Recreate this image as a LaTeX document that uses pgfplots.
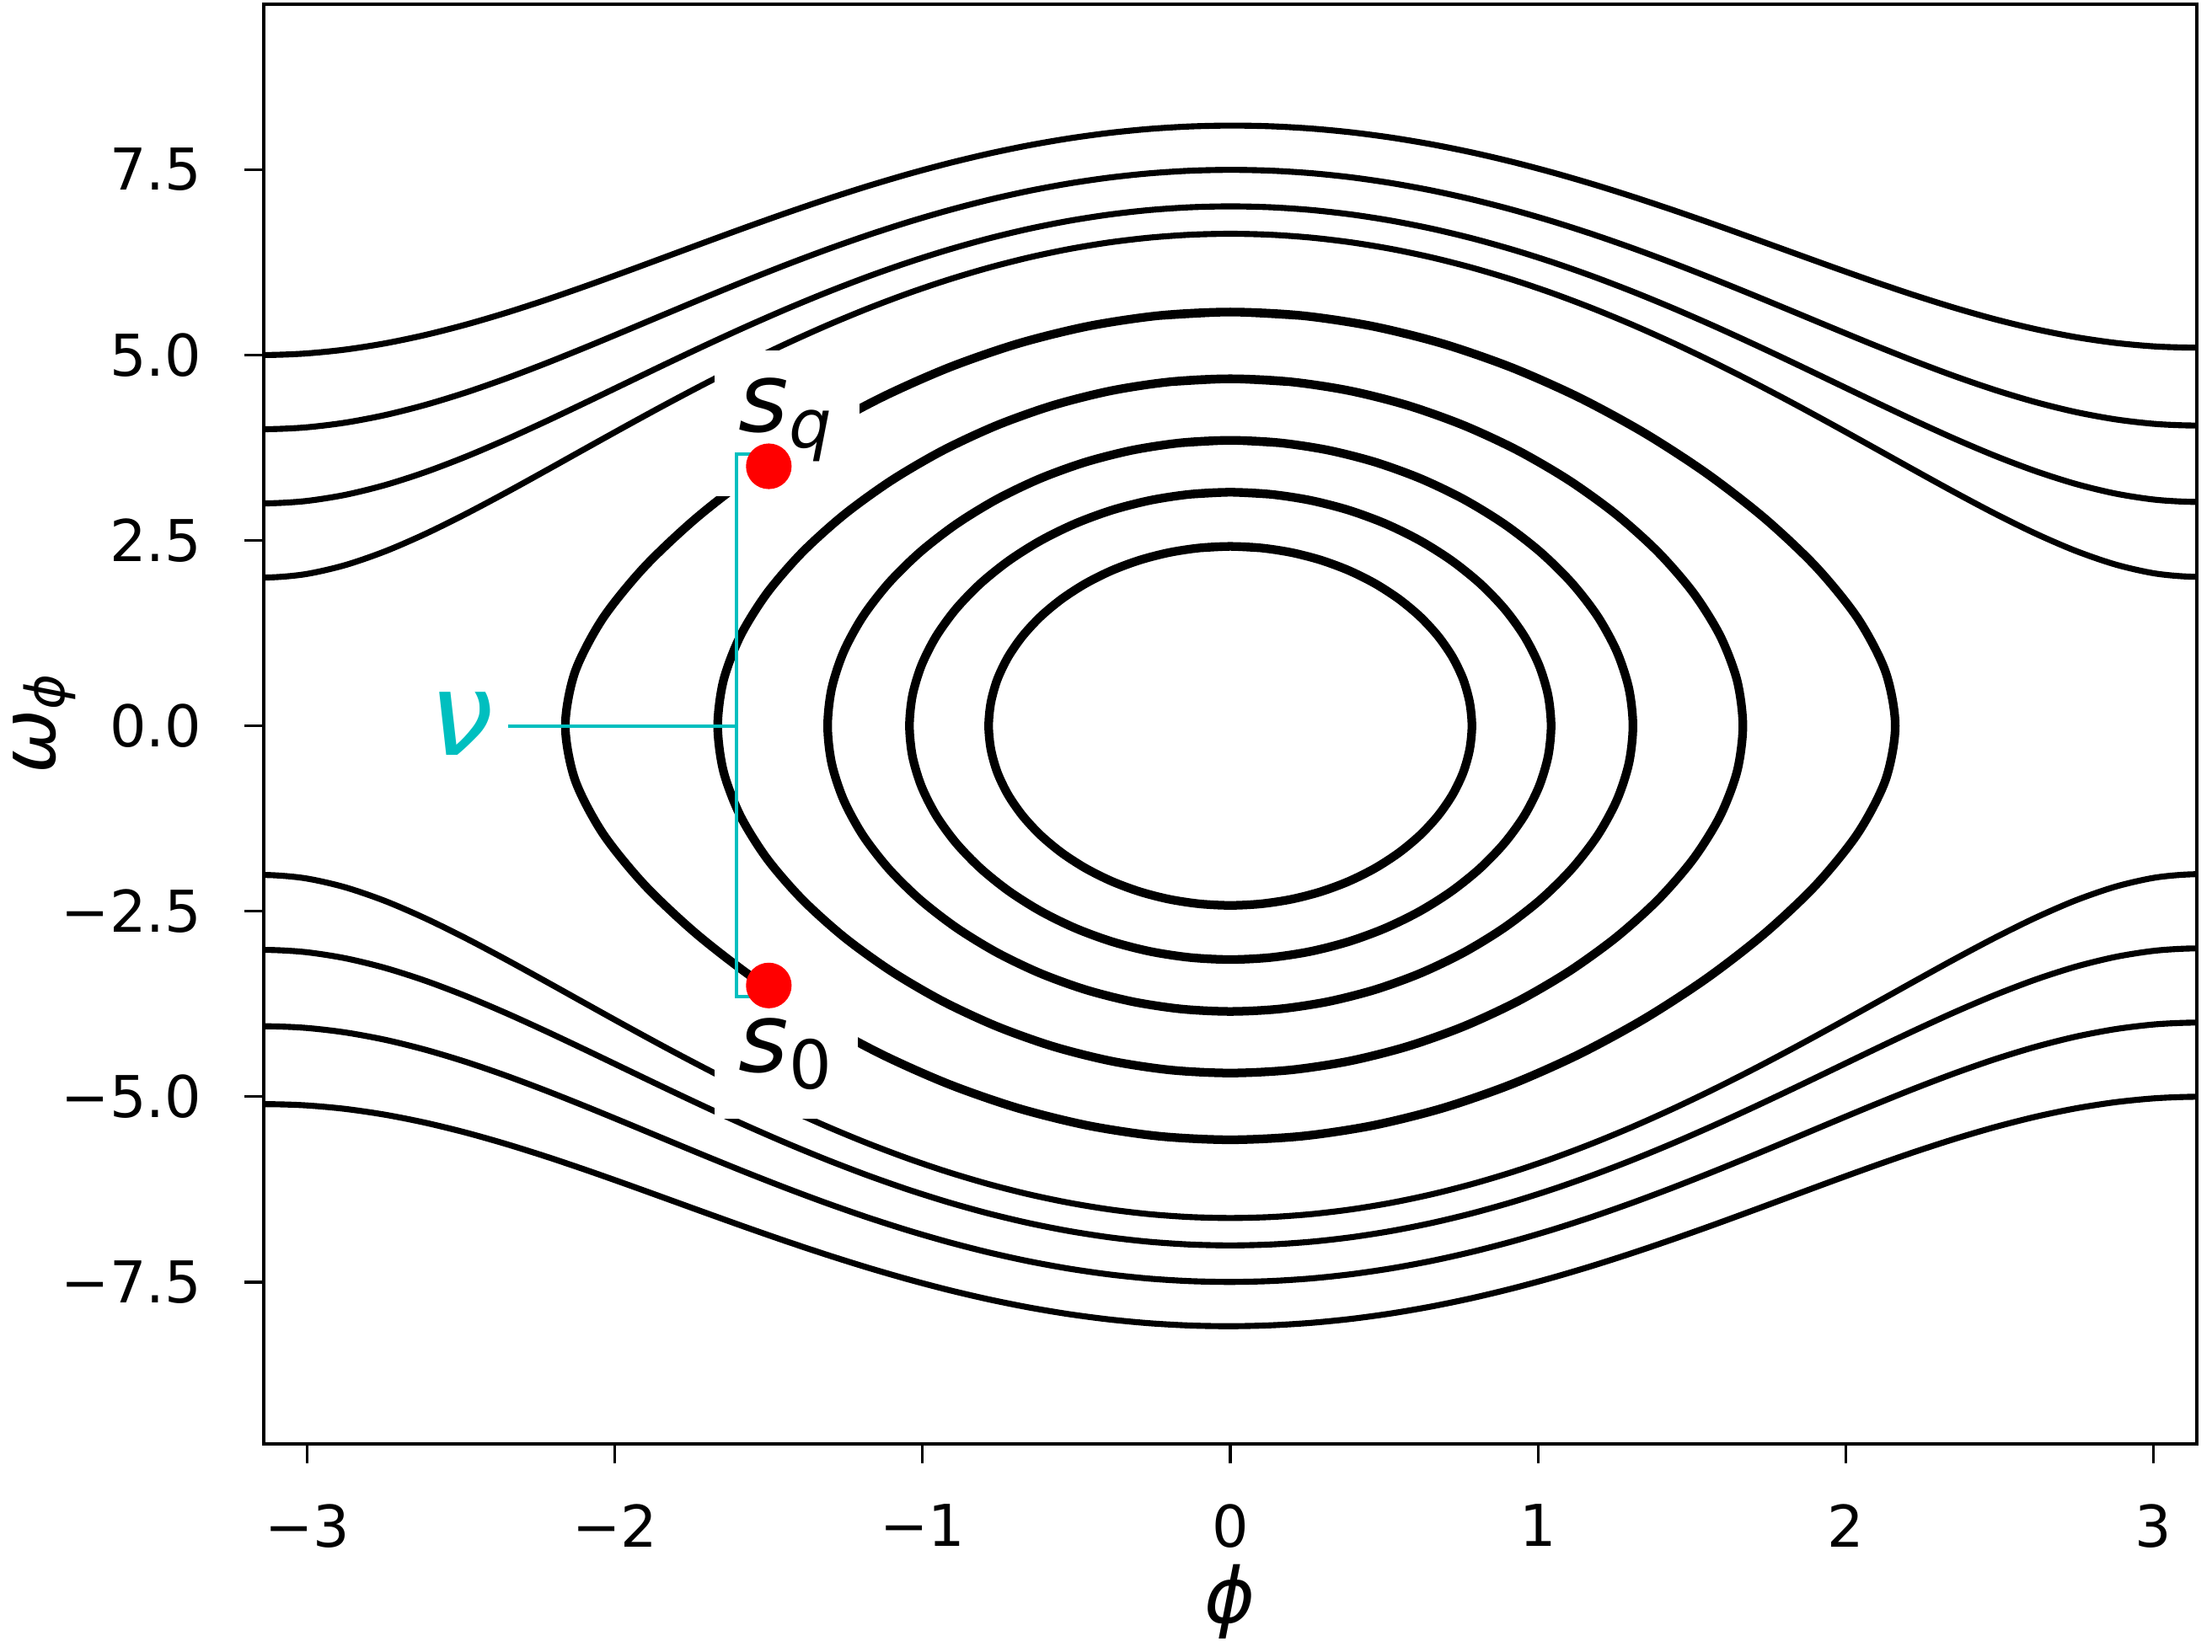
\documentclass[border=0pt]{standalone}
\usepackage{pgfplots}
\usepackage{pgfplotstable}
\pgfplotsset{compat=1.18}
\usepackage{fontspec}
\setmainfont{DejaVu Sans}
\definecolor{cc}{RGB}{0,191,191}

% rotating (open) orbits above the axis
\pgfplotstableread{
phi t5 t4 t3 t2
-3.2725 5.0150 4.0203 3.0280 2.0421
-3.1416 5.0000 4.0000 3.0000 2.0000
-3.0107 5.0192 4.0224 3.0288 2.0425
-2.8798 5.0719 4.0865 3.1124 2.1643
-2.7489 5.1561 4.1890 3.2450 2.3505
-2.6180 5.2692 4.3259 3.4191 2.5852
-2.4871 5.4072 4.4916 3.6256 2.8526
-2.3562 5.5663 4.6806 3.8566 3.1405
-2.2253 5.7421 4.8870 4.1039 3.4396
-2.0944 5.9303 5.1056 4.3612 3.7426
-1.9635 6.1266 5.3312 4.6226 4.0440
-1.8326 6.3273 5.5594 4.8836 4.3396
-1.7017 6.5285 5.7863 5.1397 4.6259
-1.5708 6.7271 6.0083 5.3879 4.9000
-1.4399 6.9198 6.2224 5.6252 5.1596
-1.3090 7.1043 6.4260 5.8490 5.4026
-1.1781 7.2780 6.6165 6.0573 5.6272
-1.0472 7.4389 6.7921 6.2482 5.8321
-0.9163 7.5850 6.9510 6.4201 6.0157
-0.7854 7.7150 7.0917 6.5717 6.1771
-0.6545 7.8273 7.2129 6.7018 6.3153
-0.5236 7.9209 7.3135 6.8096 6.4294
-0.3927 7.9950 7.3927 6.8942 6.5188
-0.2618 8.0487 7.4499 6.9551 6.5830
-0.1309 8.0816 7.4847 6.9919 6.6218
0.0000 8.0935 7.4967 7.0043 6.6348
0.1309 8.0842 7.4858 6.9922 6.6219
0.2618 8.0539 7.4522 6.9558 6.5833
0.3927 8.0028 7.3961 6.8953 6.5192
0.5236 7.9315 7.3180 6.8110 6.4299
0.6545 7.8407 7.2186 6.7037 6.3159
0.7854 7.7313 7.0987 6.5740 6.1779
0.9163 7.6044 6.9594 6.4228 6.0167
1.0472 7.4614 6.8020 6.2514 5.8333
1.1781 7.3040 6.6279 6.0610 5.6286
1.3090 7.1338 6.4389 5.8533 5.4041
1.4399 6.9532 6.2371 5.6301 5.1613
1.5708 6.7645 6.0249 5.3935 4.9020
1.7017 6.5702 5.8050 5.1461 4.6282
1.8326 6.3737 5.5804 4.8907 4.3424
1.9635 6.1779 5.3546 4.6307 4.0471
2.0944 5.9868 5.1316 4.3704 3.7461
2.2253 5.8041 4.9159 4.1143 3.4437
2.3562 5.6340 4.7125 3.8682 3.1453
2.4871 5.4807 4.5267 3.6387 2.8581
2.6180 5.3485 4.3643 3.4337 2.5917
2.7489 5.2411 4.2305 3.2611 2.3579
2.8798 5.1624 4.1310 3.1300 2.1726
3.0107 5.1147 4.0697 3.0477 2.0519
3.1416 5.1000 4.0497 3.0199 2.0100
3.2725 5.1188 4.0718 3.0486 2.0523
}\toporb

% rotating (open) orbits below the axis
\pgfplotstableread{
phi b5 b4 b3 b2
3.2725 -5.0150 -4.0203 -3.0280 -2.0421
3.1416 -5.0000 -4.0000 -3.0000 -2.0000
3.0107 -5.0192 -4.0224 -3.0288 -2.0425
2.8798 -5.0719 -4.0865 -3.1124 -2.1643
2.7489 -5.1561 -4.1890 -3.2450 -2.3505
2.6180 -5.2692 -4.3259 -3.4191 -2.5852
2.4871 -5.4072 -4.4916 -3.6256 -2.8526
2.3562 -5.5663 -4.6806 -3.8566 -3.1405
2.2253 -5.7421 -4.8870 -4.1039 -3.4396
2.0944 -5.9303 -5.1056 -4.3612 -3.7426
1.9635 -6.1266 -5.3312 -4.6226 -4.0440
1.8326 -6.3273 -5.5594 -4.8836 -4.3396
1.7017 -6.5285 -5.7863 -5.1397 -4.6259
1.5708 -6.7271 -6.0083 -5.3879 -4.9000
1.4399 -6.9198 -6.2224 -5.6252 -5.1596
1.3090 -7.1043 -6.4260 -5.8490 -5.4026
1.1781 -7.2780 -6.6165 -6.0573 -5.6272
1.0472 -7.4389 -6.7921 -6.2482 -5.8321
0.9163 -7.5850 -6.9510 -6.4201 -6.0157
0.7854 -7.7150 -7.0917 -6.5717 -6.1771
0.6545 -7.8273 -7.2129 -6.7018 -6.3153
0.5236 -7.9209 -7.3135 -6.8096 -6.4294
0.3927 -7.9950 -7.3927 -6.8942 -6.5188
0.2618 -8.0487 -7.4499 -6.9551 -6.5830
0.1309 -8.0816 -7.4847 -6.9919 -6.6218
0.0000 -8.0935 -7.4967 -7.0043 -6.6348
-0.1309 -8.0842 -7.4858 -6.9922 -6.6219
-0.2618 -8.0539 -7.4522 -6.9558 -6.5833
-0.3927 -8.0028 -7.3961 -6.8953 -6.5192
-0.5236 -7.9315 -7.3180 -6.8110 -6.4299
-0.6545 -7.8407 -7.2186 -6.7037 -6.3159
-0.7854 -7.7313 -7.0987 -6.5740 -6.1779
-0.9163 -7.6044 -6.9594 -6.4228 -6.0167
-1.0472 -7.4614 -6.8020 -6.2514 -5.8333
-1.1781 -7.3040 -6.6279 -6.0610 -5.6286
-1.3090 -7.1338 -6.4389 -5.8533 -5.4041
-1.4399 -6.9532 -6.2371 -5.6301 -5.1613
-1.5708 -6.7645 -6.0249 -5.3935 -4.9020
-1.7017 -6.5702 -5.8050 -5.1461 -4.6282
-1.8326 -6.3737 -5.5804 -4.8907 -4.3424
-1.9635 -6.1779 -5.3546 -4.6307 -4.0471
-2.0944 -5.9868 -5.1316 -4.3704 -3.7461
-2.2253 -5.8041 -4.9159 -4.1143 -3.4437
-2.3562 -5.6340 -4.7125 -3.8682 -3.1453
-2.4871 -5.4807 -4.5267 -3.6387 -2.8581
-2.6180 -5.3485 -4.3643 -3.4337 -2.5917
-2.7489 -5.2411 -4.2305 -3.2611 -2.3579
-2.8798 -5.1624 -4.1310 -3.1300 -2.1726
-3.0107 -5.1147 -4.0697 -3.0477 -2.0519
-3.1416 -5.1000 -4.0497 -3.0199 -2.0100
-3.2725 -5.1188 -4.0718 -3.0486 -2.0523
}\botorb

\begin{document}
\begin{tikzpicture}
\begin{axis}[
  scale only axis, width=402.46pt, height=299.82pt,
  xmin=-3.14159, xmax=3.14159, ymin=-9.68, ymax=9.73,
  axis line style={line width=0.55pt},
  tick style={line width=0.55pt, black},
  tick align=outside, tick pos=left, major tick length=4pt,
  xtick={-3,-2,-1,0,1,2,3}, xticklabels={−3,−2,−1,0,1,2,3},
  ytick={-7.5,-5,-2.5,0,2.5,5,7.5}, yticklabels={−7.5,−5.0,−2.5,0.0,2.5,5.0,7.5},
  tick label style={font=\fontsize{12}{14}\selectfont, inner sep=0pt},
  xticklabel shift=8.42pt, yticklabel shift=8.77pt,
  clip=true, clip mode=individual,
]
\coordinate (bl) at (rel axis cs:0,0);
\coordinate (tr) at (rel axis cs:1,1);

% rotating orbits
\foreach \c in {t5,t4,t3,t2}{
  \addplot[smooth, black, line width=1.25pt] table[x=phi, y=\c] {\toporb};
}
\foreach \c in {b5,b4,b3,b2}{
  \addplot[smooth, black, line width=1.25pt] table[x=phi, y=\c] {\botorb};
}

% librating orbits
\addplot[smooth, black, line width=1.8pt] coordinates {(-0.0999,2.3993)
(0,2.42) (0.0999,2.3993) (0.1984,2.3375) (0.2939,2.2358) (0.3850,2.0957) (0.4701,1.9199) (0.5478,1.7112) (0.6168,1.4732) (0.6754,1.21) (0.7226,0.9261) (0.7572,0.6263) (0.7781,0.3159) (0.7854,0)
(0.7781,-0.3159) (0.7572,-0.6263) (0.7226,-0.9261) (0.6754,-1.21) (0.6168,-1.4732) (0.5478,-1.7112) (0.4701,-1.9199) (0.3850,-2.0957) (0.2939,-2.2358) (0.1984,-2.3375) (0.0999,-2.3993) (0,-2.42)
(-0.0999,-2.3993) (-0.1984,-2.3375) (-0.2939,-2.2358) (-0.3850,-2.0957) (-0.4701,-1.9199) (-0.5478,-1.7112) (-0.6168,-1.4732) (-0.6754,-1.21) (-0.7226,-0.9261) (-0.7572,-0.6263) (-0.7781,-0.3159) (-0.7854,0)
(-0.7781,0.3159) (-0.7572,0.6263) (-0.7226,0.9261) (-0.6754,1.21) (-0.6168,1.4732) (-0.5478,1.7112) (-0.4701,1.9199) (-0.3850,2.0957) (-0.2939,2.2358) (-0.1984,2.3375) (-0.0999,2.3993) (0,2.42) (0.0999,2.3993)};
\addplot[smooth, black, line width=1.8pt] coordinates {(-0.1301,3.1230)
(0,3.15) (0.1301,3.1230) (0.2585,3.0426) (0.3836,2.9102) (0.5034,2.7279) (0.6161,2.4991) (0.7198,2.2274) (0.8125,1.9176) (0.8920,1.575) (0.9564,1.2054) (1.0038,0.8152) (1.0330,0.4112) (1.0428,0)
(1.0330,-0.4112) (1.0038,-0.8152) (0.9564,-1.2054) (0.8920,-1.575) (0.8125,-1.9176) (0.7198,-2.2274) (0.6161,-2.4991) (0.5034,-2.7279) (0.3836,-2.9102) (0.2585,-3.0426) (0.1301,-3.1230) (0,-3.15)
(-0.1301,-3.1230) (-0.2585,-3.0426) (-0.3836,-2.9102) (-0.5034,-2.7279) (-0.6161,-2.4991) (-0.7198,-2.2274) (-0.8125,-1.9176) (-0.8920,-1.575) (-0.9564,-1.2054) (-1.0038,-0.8152) (-1.0330,-0.4112) (-1.0428,0)
(-1.0330,0.4112) (-1.0038,0.8152) (-0.9564,1.2054) (-0.8920,1.575) (-0.8125,1.9176) (-0.7198,2.2274) (-0.6161,2.4991) (-0.5034,2.7279) (-0.3836,2.9102) (-0.2585,3.0426) (-0.1301,3.1230) (0,3.15) (0.1301,3.1230)};
\addplot[smooth, black, line width=1.8pt] coordinates {(-0.1591,3.8170)
(0,3.85) (0.1591,3.8170) (0.3164,3.7187) (0.4702,3.5569) (0.6185,3.3341) (0.7592,3.0544) (0.8899,2.7223) (1.0080,2.3437) (1.1104,1.925) (1.1945,1.4733) (1.2570,0.9964) (1.2957,0.5025) (1.3088,0)
(1.2957,-0.5025) (1.2570,-0.9964) (1.1945,-1.4733) (1.1104,-1.925) (1.0080,-2.3437) (0.8899,-2.7223) (0.7592,-3.0544) (0.6185,-3.3341) (0.4702,-3.5569) (0.3164,-3.7187) (0.1591,-3.8170) (0,-3.85)
(-0.1591,-3.8170) (-0.3164,-3.7187) (-0.4702,-3.5569) (-0.6185,-3.3341) (-0.7592,-3.0544) (-0.8899,-2.7223) (-1.0080,-2.3437) (-1.1104,-1.925) (-1.1945,-1.4733) (-1.2570,-0.9964) (-1.2957,-0.5025) (-1.3088,0)
(-1.2957,0.5025) (-1.2570,0.9964) (-1.1945,1.4733) (-1.1104,1.925) (-1.0080,2.3437) (-0.8899,2.7223) (-0.7592,3.0544) (-0.6185,3.3341) (-0.4702,3.5569) (-0.3164,3.7187) (-0.1591,3.8170) (0,3.85) (0.1591,3.8170)};
\addplot[smooth, black, line width=1.8pt] coordinates {(-0.1935,4.6399)
(0,4.68) (0.1935,4.6399) (0.3854,4.5204) (0.5742,4.3238) (0.7580,4.0529) (0.9346,3.7129) (1.1013,3.3092) (1.2549,2.8490) (1.3912,2.34) (1.5056,1.7909) (1.5926,1.2112) (1.6474,0.6109) (1.6661,0)
(1.6474,-0.6109) (1.5926,-1.2112) (1.5056,-1.7909) (1.3912,-2.34) (1.2549,-2.8490) (1.1013,-3.3092) (0.9346,-3.7129) (0.7580,-4.0529) (0.5742,-4.3238) (0.3854,-4.5204) (0.1935,-4.6399) (0,-4.68)
(-0.1935,-4.6399) (-0.3854,-4.5204) (-0.5742,-4.3238) (-0.7580,-4.0529) (-0.9346,-3.7129) (-1.1013,-3.3092) (-1.2549,-2.8490) (-1.3912,-2.34) (-1.5056,-1.7909) (-1.5926,-1.2112) (-1.6474,-0.6109) (-1.6661,0)
(-1.6474,0.6109) (-1.5926,1.2112) (-1.5056,1.7909) (-1.3912,2.34) (-1.2549,2.8490) (-1.1013,3.3092) (-0.9346,3.7129) (-0.7580,4.0529) (-0.5742,4.3238) (-0.3854,4.5204) (-0.1935,4.6399) (0,4.68) (0.1935,4.6399)};
\addplot[smooth, black, line width=1.8pt] coordinates {(-0.2309,5.5322)
(0,5.58) (0.2309,5.5322) (0.4607,5.3897) (0.6888,5.1553) (0.9138,4.8323) (1.1340,4.4269) (1.3474,3.9456) (1.5507,3.3969) (1.7392,2.79) (1.9059,2.1354) (2.0404,1.4441) (2.1298,0.7284) (2.1614,0)
(2.1298,-0.7284) (2.0404,-1.4441) (1.9059,-2.1354) (1.7392,-2.79) (1.5507,-3.3969) (1.3474,-3.9456) (1.1340,-4.4269) (0.9138,-4.8323) (0.6888,-5.1553) (0.4607,-5.3897) (0.2309,-5.5322) (0,-5.58)
(-0.2309,-5.5322) (-0.4607,-5.3897) (-0.6888,-5.1553) (-0.9138,-4.8323) (-1.1340,-4.4269) (-1.3474,-3.9456) (-1.5507,-3.3969) (-1.7392,-2.79) (-1.9059,-2.1354) (-2.0404,-1.4441) (-2.1298,-0.7284) (-2.1614,0)
(-2.1298,0.7284) (-2.0404,1.4441) (-1.9059,2.1354) (-1.7392,2.79) (-1.5507,3.3969) (-1.3474,3.9456) (-1.1340,4.4269) (-0.9138,4.8323) (-0.6888,5.1553) (-0.4607,5.3897) (-0.2309,5.5322) (0,5.58) (0.2309,5.5322)};

% white label backgrounds
\fill[white] (axis cs:-1.676,3.10) rectangle (axis cs:-1.205,5.06);
\fill[white] (axis cs:-1.676,-3.58) rectangle (axis cs:-1.211,-5.30);

% bracket
\draw[cc, line width=0.7pt] (axis cs:-1.5,3.66) -- (axis cs:-1.605,3.66) -- (axis cs:-1.605,-3.65) -- (axis cs:-1.5,-3.65);
\draw[cc, line width=0.7pt] (axis cs:-2.347,0) -- (axis cs:-1.605,0);

% states
\addplot[only marks, mark=*, mark size=4.55pt, mark options={fill=red, draw=red}] coordinates {(-1.5,3.5) (-1.5,-3.5)};

% annotations
\node[anchor=base west, inner sep=0pt, font=\fontsize{20}{20}\selectfont] at (axis cs:-1.60,3.97) {\textit{s}\raisebox{-3.4pt}{\fontsize{14}{14}\selectfont\textit{q}}};
\node[anchor=base west, inner sep=0pt, font=\fontsize{20}{20}\selectfont] at (axis cs:-1.60,-4.67) {\textit{s}\raisebox{-3.5pt}{\fontsize{14}{14}\selectfont 0}};
\node[anchor=center, inner sep=0pt, text=cc, font=\fontsize{24}{24}\selectfont] at (axis cs:-2.50,0.03) {\textit{ν}};

% axis labels
\node[anchor=north, inner sep=0pt, font=\fontsize{16}{16}\selectfont] at (rel axis cs:0.5,-0.0831) {\textit{ϕ}};
\node[anchor=south, rotate=90, inner sep=0pt, font=\fontsize{16}{16}\selectfont] at (rel axis cs:-0.0970,0.5) {\textit{ω}\raisebox{-1.8pt}{\fontsize{11.2}{11.2}\selectfont\textit{ϕ}}};
\end{axis}
\pgfresetboundingbox
\path ([shift={(-54.91pt,-43.33pt)}]bl) rectangle ([shift={(3.16pt,0.88pt)}]tr);
\end{tikzpicture}
\end{document}
